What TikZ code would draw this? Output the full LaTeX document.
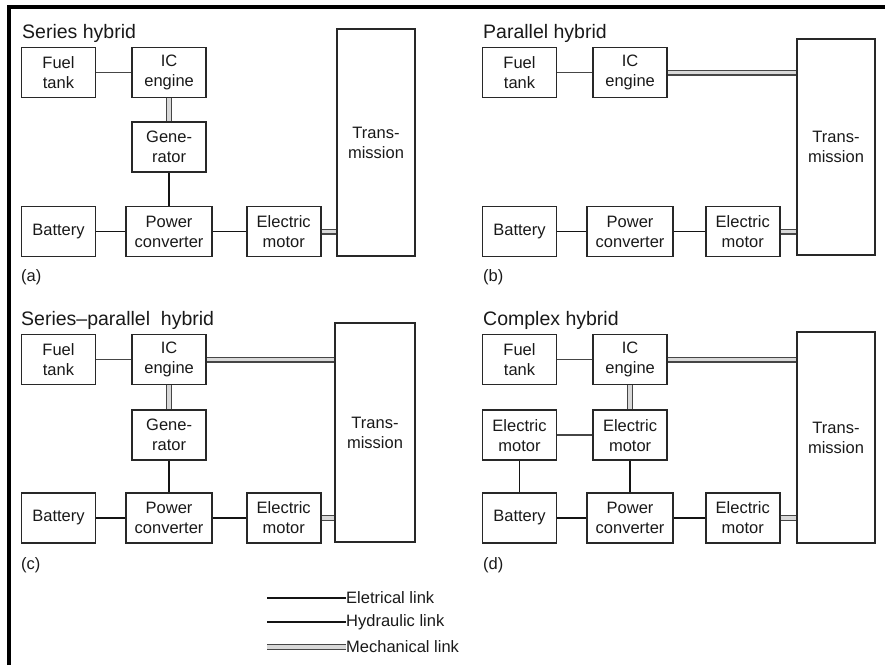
\documentclass[tikz,border=0pt]{standalone}
\usepackage{fontspec}
\setmainfont{Liberation Sans}
\usepackage{tikz}
\usetikzlibrary{positioning}
\definecolor{boxline}{RGB}{40,40,40}
\definecolor{linkdark}{RGB}{20,20,20}
\definecolor{linkgray}{RGB}{70,70,70}
\definecolor{labeltext}{RGB}{25,25,25}
\tikzset{
  hybox/.style={rectangle,draw=boxline,line width=1.6pt,minimum width=74pt,
    minimum height=50pt,align=center,inner sep=2pt,
    font=\fontsize{16.5}{20}\selectfont,text=labeltext},
  widebox/.style={hybox,minimum width=86pt},
  trbox/.style={hybox,minimum width=78pt},
  ellink/.style={line width=1.9pt,color=linkdark},
  hylink/.style={line width=1.5pt,color=linkgray},
  melink/.style={double=white!85!black,double distance=3.4pt,line width=1.3pt,
    color=linkgray},
  panelhead/.style={anchor=base west,inner sep=0pt,
    font=\fontsize{19.5}{22}\selectfont,text=labeltext},
  panellabel/.style={anchor=west,inner sep=0pt,
    font=\fontsize{16.5}{18}\selectfont,text=labeltext},
  legtext/.style={anchor=west,inner sep=0pt,
    font=\fontsize{16.5}{18}\selectfont,text=labeltext},
}

\begin{document}
\begin{tikzpicture}[x=1pt,y=-1pt]
\useasboundingbox (0,0) rectangle (885,665);
\draw[line width=4pt] (9,665) -- (9,7) -- (885,7);

%% ── (a) series hybrid ────────────────────────────────────────────────────
\node[panelhead] (hda) at (22,38) {Series hybrid};
\node[hybox] (fta) at (58.5,72.5) {Fuel\\tank};
\node[hybox, right=35pt of fta] (ica) {IC\\engine};
\node[hybox, below=23pt of ica] (gena) {Gene-\\rator};
\node[hybox] (bata) at (58.5,231.5) {Battery};
\node[widebox] (pca) at (gena |- bata) {Power\\converter};
\node[hybox, right=33pt of pca] (ema) {Electric\\motor};
\node[trbox, minimum height=227pt] (tra) at (376,142.5) {Trans-\\mission};
\node[panellabel] (lba) at (21,277) {(a)};

% fuel tank ── IC engine
\draw[hylink] (fta.east) -- (ica.west);
% IC engine ══ generator
\draw[melink] (ica.south) -- (gena.north);
% generator ── power converter
\draw[ellink] (gena.south) -- (pca.north);
% battery ── power converter ── electric motor
\draw[ellink] (bata.east) -- (pca.west);
\draw[ellink] (pca.east) -- (ema.west);
% electric motor ══ transmission
\draw[melink] (ema.east) -- (ema.east -| tra.west);

%% ── (b) parallel hybrid ──────────────────────────────────────────────────
\node[panelhead] (hdb) at (483,38) {Parallel hybrid};
\node[hybox] (ftb) at (519.5,72.5) {Fuel\\tank};
\node[hybox, right=35pt of ftb] (icb) {IC\\engine};
\node[hybox] (batb) at (519.5,231.5) {Battery};
\node[widebox] (pcb) at (icb |- batb) {Power\\converter};
\node[hybox, right=31pt of pcb] (emb) {Electric\\motor};
\node[trbox, minimum height=216pt] (trb) at (836,147) {Trans-\\mission};
\node[panellabel] (lbb) at (483,277) {(b)};

% fuel tank ── IC engine ══ transmission
\draw[hylink] (ftb.east) -- (icb.west);
\draw[melink] (icb.east) -- (icb.east -| trb.west);
% battery ── power converter ── electric motor ══ transmission
\draw[ellink] (batb.east) -- (pcb.west);
\draw[ellink] (pcb.east) -- (emb.west);
\draw[melink] (emb.east) -- (emb.east -| trb.west);

%% ── (c) series-parallel hybrid ───────────────────────────────────────────
\node[panelhead] (hdc) at (21,325) {Series--parallel\ \ hybrid};
\node[hybox] (ftc) at (58.5,359.5) {Fuel\\tank};
\node[hybox, right=35pt of ftc] (icc) {IC\\engine};
\node[hybox, below=24pt of icc] (genc) {Gene-\\rator};
\node[hybox] (batc) at (58.5,518) {Battery};
\node[widebox] (pcc) at (genc |- batc) {Power\\converter};
\node[hybox, right=33pt of pcc] (emc) {Electric\\motor};
\node[trbox, minimum width=80pt, minimum height=219pt] (trc)
  at (375,432.5) {Trans-\\mission};
\node[panellabel] (lbc) at (21,565) {(c)};

% fuel tank ── IC engine ══ transmission
\draw[hylink] (ftc.east) -- (icc.west);
\draw[melink] (icc.east) -- (icc.east -| trc.west);
% IC engine ══ generator ── power converter
\draw[melink] (icc.south) -- (genc.north);
\draw[ellink] (genc.south) -- (pcc.north);
% battery ── power converter ── electric motor ══ transmission
\draw[ellink] (batc.east) -- (pcc.west);
\draw[ellink] (pcc.east) -- (emc.west);
\draw[melink] (emc.east) -- (emc.east -| trc.west);

%% ── (d) complex hybrid ───────────────────────────────────────────────────
\node[panelhead] (hdd) at (483,325) {Complex hybrid};
\node[hybox] (ftd) at (519.5,359.5) {Fuel\\tank};
\node[hybox, right=35pt of ftd] (icd) {IC\\engine};
\node[hybox, below=24pt of ftd] (emdl) {Electric\\motor};
\node[hybox, below=24pt of icd] (emdm) {Electric\\motor};
\node[hybox] (batd) at (519.5,518) {Battery};
\node[widebox] (pcd) at (emdm |- batd) {Power\\converter};
\node[hybox, right=31pt of pcd] (emdr) {Electric\\motor};
\node[trbox, minimum height=211pt] (trd) at (836,437.5) {Trans-\\mission};
\node[panellabel] (lbd) at (483,565) {(d)};

% fuel tank ── IC engine ══ transmission
\draw[hylink] (ftd.east) -- (icd.west);
\draw[melink] (icd.east) -- (icd.east -| trd.west);
% IC engine ══ electric motor
\draw[melink] (icd.south) -- (emdm.north);
% electric motor ── electric motor
\draw[hylink] (emdl.east) -- (emdm.west);
% motors ── battery / power converter
\draw[ellink] (emdl.south) -- (batd.north);
\draw[ellink] (emdm.south) -- (pcd.north);
% battery ── power converter ── electric motor ══ transmission
\draw[ellink] (batd.east) -- (pcd.west);
\draw[ellink] (pcd.east) -- (emdr.west);
\draw[melink] (emdr.east) -- (emdr.east -| trd.west);

%% ── Legend ───────────────────────────────────────────────────────────────
\coordinate (lgel) at (267,598);
\coordinate (lghy) at (267,622);
\coordinate (lgme) at (267,647);
\node[legtext] (lgelt) at (346,598) {Eletrical link};
\node[legtext] (lghyt) at (346,622) {Hydraulic link};
\node[legtext] (lgmet) at (346,647) {Mechanical link};
\draw[ellink] (lgel) -- (lgelt.west);
\draw[ellink] (lghy) -- (lghyt.west);
\draw[melink] (lgme) -- (lgmet.west);

\end{tikzpicture}
\end{document}
